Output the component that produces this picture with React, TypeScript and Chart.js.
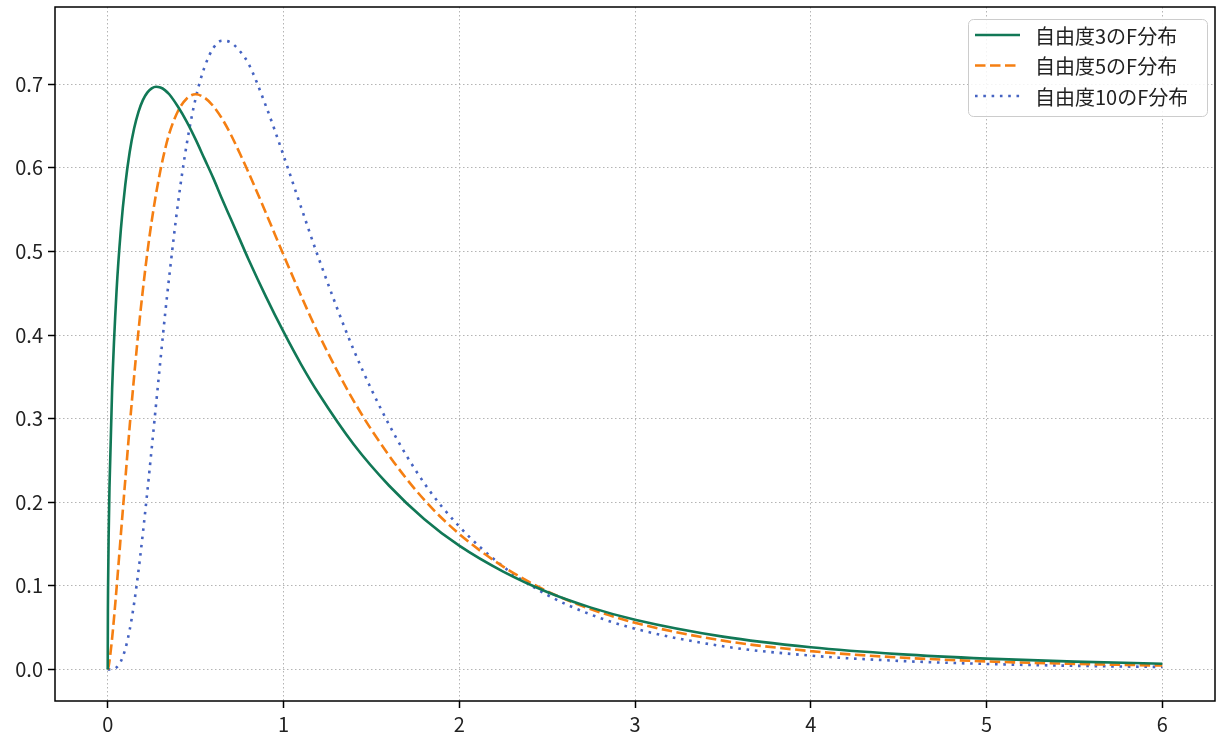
import React, { useEffect, useRef } from "react";
import { Chart, registerables } from "chart.js";

Chart.register(...registerables);

// x positions (sample points)
const xValues = [
  0, 0.001, 0.002, 0.005, 0.01, 0.025, 0.05, 0.075, 0.1, 0.125, 0.15, 0.175, 0.2, 0.225,
  0.25, 0.275, 0.3, 0.325, 0.35, 0.4, 0.45, 0.5, 0.55, 0.6, 0.65, 0.7, 0.75, 0.8, 0.9,
  1.0, 1.1, 1.2, 1.4, 1.6, 1.8, 2.0, 2.25, 2.5, 2.75, 3.0, 3.5, 4.0, 4.5, 5.0, 5.5, 6.0,
];

const df3Values = [
  0, 0.070, 0.099, 0.156, 0.218, 0.335, 0.452, 0.527, 0.580, 0.619, 0.647, 0.667, 0.681,
  0.690, 0.695, 0.697, 0.696, 0.693, 0.688, 0.673, 0.655, 0.634, 0.611, 0.588, 0.563,
  0.539, 0.515, 0.491, 0.446, 0.404, 0.365, 0.330, 0.269, 0.220, 0.180, 0.148, 0.117,
  0.0926, 0.0739, 0.0594, 0.0392, 0.0265, 0.0183, 0.0129, 0.0093, 0.0068,
];

const df5Values = [
  0, 0.0003, 0.0009, 0.0036, 0.010, 0.0373, 0.0963, 0.162, 0.227, 0.291, 0.350, 0.405,
  0.454, 0.498, 0.536, 0.569, 0.597, 0.621, 0.641, 0.668, 0.683, 0.688, 0.684, 0.674,
  0.659, 0.640, 0.618, 0.595, 0.546, 0.496, 0.447, 0.401, 0.321, 0.256, 0.203, 0.162,
  0.123, 0.0936, 0.0720, 0.0558, 0.0344, 0.0219, 0.0143, 0.0096, 0.0066, 0.0046,
];

const df10Values = [
  0, 0, 0, 0, 0, 0.0002, 0.0024, 0.0097, 0.0243, 0.0474, 0.0788, 0.118, 0.163, 0.212,
  0.264, 0.317, 0.370, 0.422, 0.470, 0.558, 0.629, 0.683, 0.720, 0.743, 0.752, 0.750,
  0.740, 0.725, 0.674, 0.615, 0.553, 0.492, 0.382, 0.293, 0.223, 0.171, 0.123, 0.0892,
  0.0655, 0.0487, 0.0277, 0.0165, 0.0102, 0.0065, 0.0043, 0.0029,
];

const seriesLabels = ["自由度3のF分布", "自由度5のF分布", "自由度10のF分布"];
const seriesColors = ["#117856", "#f57f12", "#4563c2"];
const seriesDashes: number[][] = [[], [10.5, 4.5], [2.6, 5.7]];

const xTicks = [0, 1, 2, 3, 4, 5, 6];
const yTicks = [0, 0.1, 0.2, 0.3, 0.4, 0.5, 0.6, 0.7];

const TICK_FONT = { family: "'Noto Sans CJK JP', 'Noto Sans', sans-serif", size: 20 };
const LEGEND_FONT = "20px 'Noto Sans CJK JP', 'Noto Sans', sans-serif";

const framePlugin = {
  id: "frame",
  afterDatasetsDraw(chart: any) {
    const { ctx, chartArea } = chart;
    ctx.save();
    ctx.strokeStyle = "#000000";
    ctx.lineWidth = 1.5;
    ctx.strokeRect(chartArea.left, chartArea.top, chartArea.right - chartArea.left, chartArea.bottom - chartArea.top);
    ctx.restore();
  },
};

const legendPlugin = {
  id: "mplLegend",
  afterDraw(chart: any) {
    const { ctx, chartArea } = chart;
    const bw = 239;
    const bh = 97;
    const bx = chartArea.right - 8 - bw;
    const by = chartArea.top + 12;
    ctx.save();
    ctx.beginPath();
    (ctx as any).roundRect(bx + 0.5, by + 0.5, bw, bh, 5);
    ctx.fillStyle = "rgba(255,255,255,0.85)";
    ctx.fill();
    ctx.strokeStyle = "#cccccc";
    ctx.lineWidth = 1;
    ctx.stroke();
    chart.data.datasets.forEach((ds: any, i: number) => {
      const y = by + 16 + i * 30.5;
      ctx.beginPath();
      ctx.setLineDash(ds.borderDash || []);
      ctx.lineCap = "butt";
      ctx.strokeStyle = ds.borderColor;
      ctx.lineWidth = ds.borderWidth;
      ctx.moveTo(bx + 7, y);
      ctx.lineTo(bx + 52, y);
      ctx.stroke();
      ctx.setLineDash([]);
      ctx.fillStyle = "#222222";
      ctx.font = LEGEND_FONT;
      ctx.textAlign = "left";
      ctx.textBaseline = "middle";
      ctx.fillText(ds.label, bx + 67, y + 1);
    });
    ctx.restore();
  },
};

const gridOpts: any = {
  color: "#b4b4b4",
  lineWidth: 1,
  drawTicks: true,
  tickLength: 7,
  tickColor: "#000000",
  tickWidth: 1.5,
  tickBorderDash: [],
};

export default function App() {
  const canvasRef = useRef<HTMLCanvasElement | null>(null);

  useEffect(() => {
    document.body.style.margin = "0";
    const canvas = canvasRef.current;
    if (!canvas) return;
    const seriesValues = [df3Values, df5Values, df10Values];
    const datasets = seriesValues.map((vals, i) => ({
      label: seriesLabels[i],
      data: xValues.map((x, j) => ({ x, y: vals[j] })),
      borderColor: seriesColors[i],
      backgroundColor: seriesColors[i],
      borderWidth: 2.6,
      borderDash: seriesDashes[i],
      borderCapStyle: "butt" as const,
      pointRadius: 0,
      cubicInterpolationMode: "monotone" as const,
      fill: false,
    }));

    const chart = new Chart(canvas, {
      type: "line",
      data: { datasets },
      options: {
        responsive: false,
        animation: false,
        layout: { padding: { top: 7, right: 8, left: 0, bottom: 0 } },
        plugins: { legend: { display: false }, tooltip: { enabled: false } },
        scales: {
          x: {
            type: "linear",
            min: -0.3,
            max: 6.3,
            afterBuildTicks: (s: any) => {
              s.ticks = xTicks.map((v) => ({ value: v }));
            },
            afterFit: (s: any) => {
              s.height = 40;
              s.paddingLeft = 0;
              s.paddingRight = 0;
            },
            grid: gridOpts,
            border: { display: false, dash: [1.5, 2.5] } as any,
            ticks: {
              color: "#222222",
              font: TICK_FONT,
              padding: 4,
              maxRotation: 0,
              callback: (v: any) => String(v),
            },
          },
          y: {
            type: "linear",
            min: -0.0378,
            max: 0.7924,
            afterBuildTicks: (s: any) => {
              s.ticks = yTicks.map((v) => ({ value: v }));
            },
            afterFit: (s: any) => {
              s.width = 55;
              s.paddingTop = 0;
              s.paddingBottom = 0;
            },
            grid: gridOpts,
            border: { display: false, dash: [1.5, 2.5] } as any,
            ticks: {
              color: "#222222",
              font: TICK_FONT,
              padding: 5,
              callback: (v: any) => Number(v).toFixed(1),
            },
          },
        },
      },
      plugins: [framePlugin, legendPlugin],
    });
    return () => chart.destroy();
  }, []);

  return (
    <div style={{ position: "relative", width: 1223, height: 741, background: "#ffffff" }}>
      <canvas ref={canvasRef} width={1223} height={741} style={{ display: "block" }} />
    </div>
  );
}
